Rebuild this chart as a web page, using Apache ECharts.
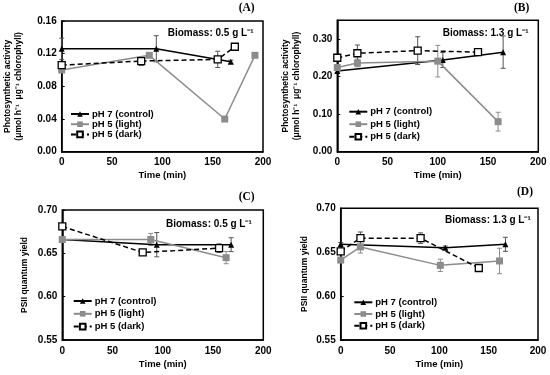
<!DOCTYPE html>
<html><head><meta charset="utf-8">
<script src="https://cdn.jsdelivr.net/npm/echarts@6/dist/echarts.min.js"></script>
<style>html,body{margin:0;padding:0;background:#fff}#c{width:550px;height:375px}</style>
</head><body><div id="c"></div>
<script>
// ---------- DATA ----------
const seriesNames = ['pH 7 (control)', 'pH 5 (light)', 'pH 5 (dark)'];
const panelLabels = ['(A)', '(B)', '(C)', '(D)'];
const biomassLabels = ['Biomass: 0.5 g L\u207B\u00B9', 'Biomass: 1.3 g L\u207B\u00B9', 'Biomass: 0.5 g L\u207B\u00B9', 'Biomass: 1.3 g L\u207B\u00B9'];
const xTicks = [0, 50, 100, 150, 200];
const yTicksA = [0, 0.04, 0.08, 0.12, 0.16];
const yTicksB = [0, 0.10, 0.20, 0.30];
const yMaxB = 0.35;
const yTicksCD = [0.55, 0.60, 0.65, 0.70];
const yTitleActivity = ['Photosynthetic activity', '(\u03BCmol h\u207B\u00B9  \u03BCg\u207B\u00B9 chlorophyll)'];
const yTitleYield = 'PSII quantum yield';
const xTitle = 'Time (min)';

// Panel A
const A_ctrl_t = [0, 94, 168];      const A_ctrl_v = [0.126, 0.126, 0.110];        const A_ctrl_e = [0.013, 0.016, 0.002];
const A_light_t = [0, 87, 162, 192]; const A_light_v = [0.100, 0.118, 0.040, 0.118]; const A_light_e = [0.003, 0.002, 0.002, 0.002];
const A_dark_t = [0, 79, 155, 172];  const A_dark_v = [0.106, 0.111, 0.113, 0.1285]; const A_dark_e = [0.002, 0.0055, 0.010, 0.002];
// Panel B
const B_ctrl_t = [0, 105, 165];      const B_ctrl_v = [0.215, 0.244, 0.265];        const B_ctrl_e = [0.005, 0.02, 0.043];
const B_light_t = [0, 20, 100, 160]; const B_light_v = [0.224, 0.236, 0.241, 0.080]; const B_light_e = [0.005, 0.010, 0.042, 0.025];
const B_dark_t = [0, 20, 80, 140];   const B_dark_v = [0.250, 0.262, 0.269, 0.265]; const B_dark_e = [0.005, 0.022, 0.037, 0.004];
// Panel C
const C_ctrl_t = [0, 94, 168];       const C_ctrl_v = [0.666, 0.660, 0.660];        const C_ctrl_e = [0.002, 0.014, 0.008];
const C_light_t = [0, 88, 163];      const C_light_v = [0.666, 0.666, 0.645];       const C_light_e = [0.002, 0.007, 0.007];
const C_dark_t = [0, 80, 156];       const C_dark_v = [0.681, 0.651, 0.656];        const C_dark_e = [0.002, 0.002, 0.005];
// Panel D
const D_ctrl_t = [0, 106, 167];      const D_ctrl_v = [0.659, 0.655, 0.659];        const D_ctrl_e = [0.002, 0.002, 0.008];
const D_light_t = [0, 20, 101, 161]; const D_light_v = [0.641, 0.656, 0.635, 0.640]; const D_light_e = [0.002, 0.007, 0.007, 0.0145];
const D_dark_t = [0, 20, 81, 140];   const D_dark_v = [0.651, 0.666, 0.666, 0.632]; const D_dark_e = [0.002, 0.007, 0.006, 0.002];

// ---------- LAYOUT / STYLE ----------
const FONT = 'Liberation Sans, Arial, sans-serif';
const grids = [
  {left: 61.7, top: 21, width: 201.3, height: 130.7},
  {left: 337.3, top: 20.2, width: 201, height: 131.5},
  {left: 62.3, top: 210, width: 201, height: 130},
  {left: 340.7, top: 208.3, width: 197.3, height: 131.7}
];
const yAxesTicks = [
  {ticks: yTicksA, max: yTicksA[yTicksA.length - 1]},
  {ticks: yTicksB, max: yMaxB},
  {ticks: yTicksCD, max: yTicksCD[yTicksCD.length - 1]},
  {ticks: yTicksCD, max: yTicksCD[yTicksCD.length - 1]}
];
const legendPos = [
  {left: 70, top: 109, gap: 0.2},
  {left: 348.3, top: 106.7, gap: 2.5},
  {left: 72.7, top: 296, gap: 2.8},
  {left: 353.3, top: 297.3, gap: 1.7}
];
const panels = [
  [[A_ctrl_t, A_ctrl_v, A_ctrl_e], [A_light_t, A_light_v, A_light_e], [A_dark_t, A_dark_v, A_dark_e]],
  [[B_ctrl_t, B_ctrl_v, B_ctrl_e], [B_light_t, B_light_v, B_light_e], [B_dark_t, B_dark_v, B_dark_e]],
  [[C_ctrl_t, C_ctrl_v, C_ctrl_e], [C_light_t, C_light_v, C_light_e], [C_dark_t, C_dark_v, C_dark_e]],
  [[D_ctrl_t, D_ctrl_v, D_ctrl_e], [D_light_t, D_light_v, D_light_e], [D_dark_t, D_dark_v, D_dark_e]]
];
const GREY = '#8c8c8c';
const styles = [
  {symbol: 'triangle', symbolSize: 6, lineStyle: {color: '#000', width: 1.5, type: 'solid'}, itemStyle: {color: '#000'}, err: '#555'},
  {symbol: 'rect', symbolSize: 7, lineStyle: {color: GREY, width: 1.5, type: 'solid'}, itemStyle: {color: GREY}, err: '#8c8c8c'},
  {symbol: 'rect', symbolSize: 7, lineStyle: {color: '#000', width: 1.5, type: [5, 3]}, itemStyle: {color: '#fff', borderColor: '#000', borderWidth: 1.3}, err: '#555'}
];

const xAxis = [], yAxis = [], series = [], legend = [], graphic = [];
grids.forEach((g, p) => {
  xAxis.push({
    gridIndex: p, type: 'value', min: xTicks[0], max: xTicks[xTicks.length - 1], interval: xTicks[1] - xTicks[0],
    name: xTitle, nameLocation: 'middle', nameGap: 19,
    nameTextStyle: {fontFamily: FONT, fontWeight: 'bold', fontSize: 9.5, color: '#000'},
    axisLine: {onZero: false, lineStyle: {color: '#000', width: 1.5}},
    axisTick: {show: false},
    axisLabel: {fontFamily: FONT, fontWeight: 'bold', fontSize: 10, color: '#000', margin: 6},
    splitLine: {show: false}
  });
  const yt = yAxesTicks[p];
  yAxis.push({
    gridIndex: p, type: 'value', min: yt.ticks[0], max: yt.max, interval: +(yt.ticks[1] - yt.ticks[0]).toFixed(4),
    axisLine: {onZero: false, lineStyle: {color: '#000', width: 1.5}},
    axisTick: {show: true, inside: true, length: 3, lineStyle: {color: '#000', width: 1}},
    axisLabel: {fontFamily: FONT, fontWeight: 'bold', fontSize: 10, color: '#000', margin: 5, showMaxLabel: p !== 1,
      formatter: v => v.toFixed(2)},
    splitLine: {show: false}
  });
  panels[p].forEach((d, s) => {
    const st = styles[s];
    const [ts, vs, es] = d;
    series.push({
      type: 'custom', name: 'err' + p + s, xAxisIndex: p, yAxisIndex: p, silent: true, z: 1,
      data: ts.map((t, i) => [t, vs[i], es[i]]),
      encode: {x: 0, y: 1},
      renderItem: (params, api) => {
        const x = api.value(0), y = api.value(1), e = api.value(2);
        const top = api.coord([x, y + e]), bot = api.coord([x, y - e]);
        const w = 2.5, col = st.err;
        const ls = {stroke: col, lineWidth: 1};
        return {type: 'group', children: [
          {type: 'line', shape: {x1: top[0], y1: top[1], x2: bot[0], y2: bot[1]}, style: ls},
          {type: 'line', shape: {x1: top[0] - w, y1: top[1], x2: top[0] + w, y2: top[1]}, style: ls},
          {type: 'line', shape: {x1: bot[0] - w, y1: bot[1], x2: bot[0] + w, y2: bot[1]}, style: ls}
        ]};
      }
    });
    series.push({
      type: 'line', name: seriesNames[s], xAxisIndex: p, yAxisIndex: p, z: 3,
      data: ts.map((t, i) => [t, vs[i]]),
      symbol: st.symbol, symbolSize: st.symbolSize, showAllSymbol: true,
      lineStyle: st.lineStyle, itemStyle: st.itemStyle
    });
  });
  const lp = legendPos[p];
  legend.push({
    data: seriesNames, orient: 'vertical', left: lp.left, top: lp.top, padding: 0,
    itemWidth: 18, itemHeight: 7, itemGap: lp.gap, selectedMode: false,
    textStyle: {fontFamily: FONT, fontWeight: 'bold', fontSize: 9.5, color: '#000', lineHeight: 10, padding: [0, 0, 0, -2]}
  });
});

// y-axis titles
const yTitlePos = [
  {x1: 8, x2: 18.5, y: 86.4},
  {x1: 286, x2: 296.5, y: 86}
];
yTitlePos.forEach(pos => {
  [pos.x1, pos.x2].forEach((x, i) => {
    graphic.push({type: 'text', x: x, y: pos.y, rotation: Math.PI / 2,
      style: {text: yTitleActivity[i], font: 'bold 8.5px ' + FONT, fill: '#000', textAlign: 'center', textVerticalAlign: 'middle'}});
  });
});
[{x: 24.5, y: 275}, {x: 305, y: 274}].forEach(pos => {
  graphic.push({type: 'text', x: pos.x, y: pos.y, rotation: Math.PI / 2,
    style: {text: yTitleYield, font: 'bold 8.5px ' + FONT, fill: '#000', textAlign: 'center', textVerticalAlign: 'middle'}});
});
// panel letters
[{x: 246.7, y: 8}, {x: 521.7, y: 8}, {x: 246.7, y: 196.7}, {x: 525, y: 192.3}].forEach((pos, i) => {
  graphic.push({type: 'text', x: pos.x, y: pos.y,
    style: {text: panelLabels[i], font: 'bold 11.5px "Liberation Serif", "Times New Roman", serif', fill: '#000', textAlign: 'center', textVerticalAlign: 'middle'}});
});
// biomass labels
[{x: 167.7, y: 33.3}, {x: 442.7, y: 33.3}, {x: 166, y: 224.3}, {x: 445, y: 220}].forEach((pos, i) => {
  graphic.push({type: 'text', x: pos.x, y: pos.y,
    style: {text: biomassLabels[i], font: 'bold 10px ' + FONT, fill: '#000', textAlign: 'left', textVerticalAlign: 'middle'}});
});

const chart = echarts.init(document.getElementById('c'), null, {renderer: 'canvas'});
chart.setOption({
  animation: false,
  backgroundColor: '#fff',
  grid: grids.map(g => Object.assign({show: true, borderColor: '#000', borderWidth: 1.5, backgroundColor: 'transparent'}, g)),
  xAxis, yAxis, series, legend, graphic
});
</script></body></html>
